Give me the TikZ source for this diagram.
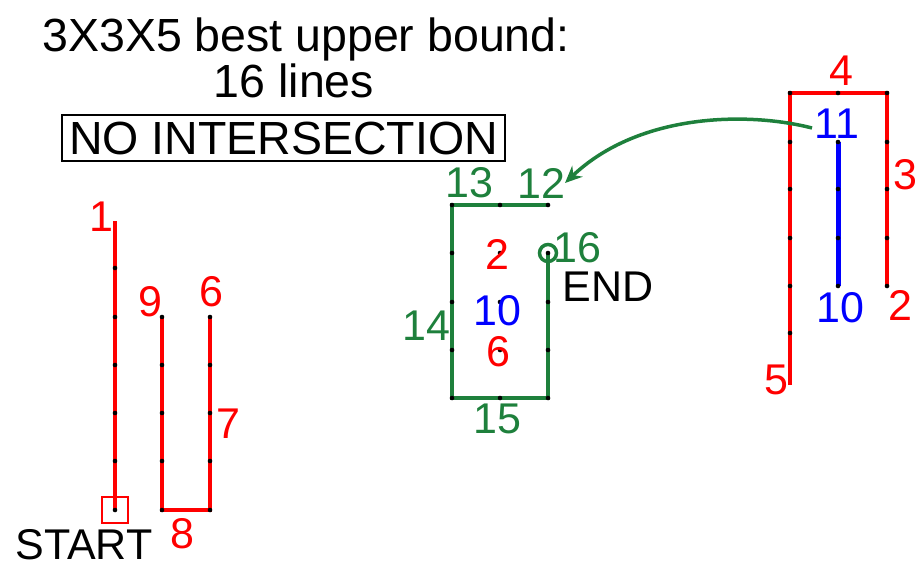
\documentclass[tikz,border=0pt]{standalone}
\usepackage{fontspec}
\setmainfont{Liberation Sans}
\usetikzlibrary{arrows.meta}
\definecolor{rd}{RGB}{255,0,0}
\definecolor{gn}{RGB}{30,128,60}
\definecolor{bl}{RGB}{0,0,255}
\begin{document}
\begin{tikzpicture}[x=1pt,y=-1pt,
  lbl/.style={inner sep=0pt, font=\fontsize{43}{43}\selectfont},
  ttl/.style={inner sep=0pt, font=\fontsize{46.5}{46.5}\selectfont},
  redpath/.style={draw=rd, line width=3.5pt, line join=miter},
  greenpath/.style={draw=gn, line width=3.5pt, line join=miter},
  bluepath/.style={draw=bl, line width=5pt},
  gdot/.style={fill=black}]
\useasboundingbox (0,0) rectangle (917,568);

% grid coordinates
\foreach \i/\x in {1/115,2/162,3/210}
  \foreach \j/\y in {1/317,2/365,3/413,4/461,5/510}
    \coordinate (L\i\j) at (\x,\y);
\foreach \i/\x in {1/452,2/500,3/548}
  \foreach \j/\y in {1/205,2/253,3/302,4/350,5/398}
    \coordinate (M\i\j) at (\x,\y);
\foreach \i/\x in {1/790,2/838,3/887}
  \foreach \j/\y in {1/93,2/142,3/189,4/238,5/286}
    \coordinate (R\i\j) at (\x,\y);
\coordinate (L10) at (115,268);
\coordinate (Ltop) at (115,221);
\coordinate (R16) at (790,333);
\coordinate (Rbot) at (790,385);

% title
\node[ttl, anchor=base] (title1) at (306,51) {3X3X5 best upper bound:};
\node[ttl, anchor=base] (title2) at (294,97) {16 lines};
\node[ttl, draw, line width=2.5pt, minimum width=443pt, minimum height=46pt] (box) at (283.5,138) {NO INTERSECTION};

% left layer
\draw[redpath] (Ltop) -- (L15);
\draw[redpath] (L21) -- (L25) -- (L35) -- (L31);
\node[draw=rd, line width=2.5pt, minimum size=26pt, inner sep=0pt] (startsq) at (L15) {};

% middle layer
\draw[greenpath] (M31) -- (M11) -- (M15) -- (M35) -- (M32);
\node[draw=gn, line width=3.5pt, circle, minimum size=17pt, inner sep=0pt] (endcirc) at (M32) {};

% right layer
\draw[redpath] (Rbot) -- (R11) -- (R31) -- (R35);
\draw[bluepath] (R22) -- (R25);

% dots
\foreach \i in {1,2,3}
  \foreach \j in {1,2,3,4,5} {
    \fill[gdot] (L\i\j) circle (2.3pt);
    \fill[gdot] (M\i\j) circle (2.3pt);
    \fill[gdot] (R\i\j) circle (2.3pt);
  }
\fill[gdot] (L10) circle (2.3pt);
\fill[gdot] (R16) circle (2.3pt);

% arrow
\coordinate (arrS) at (812,128);
\coordinate (arrE) at (565,183);
\draw[gn, line width=3.5pt, -{Stealth[length=17pt,width=15pt]}] (arrS) .. controls (750,112) and (640,112) .. (arrE);

% left labels
\node[lbl, text=rd] (l1) at (101,217) {1};
\node[lbl, text=rd] (l9) at (150,302) {9};
\node[lbl, text=rd] (l6) at (211,292) {6};
\node[lbl, text=rd] (l7) at (228,424) {7};
\node[lbl, text=rd] (l8) at (182,534) {8};
\node[lbl] (start) at (84,545) {START};

% middle labels
\node[lbl, text=gn] (m13) at (469,183) {13};
\node[lbl, text=gn] (m12) at (541,183) {12};
\node[lbl, text=gn] (m16) at (577,248) {16};
\node[lbl] (endl) at (608,287) {END};
\node[lbl, text=gn] (m14) at (426,326) {14};
\node[lbl, text=gn] (m15) at (497,419) {15};
\node[lbl, text=rd] (m2) at (497,254) {2};
\node[lbl, text=bl] (m10) at (497,311) {10};
\node[lbl, text=rd] (m6) at (498,352) {6};

% right labels
\node[lbl, text=rd] (r4) at (841,71) {4};
\node[lbl, text=bl] (r11) at (837,124) {11};
\node[lbl, text=rd] (r3) at (905,175) {3};
\node[lbl, text=bl] (r10) at (840,308) {10};
\node[lbl, text=rd] (r2) at (900,305) {2};
\node[lbl, text=rd] (r5) at (776,380) {5};
\end{tikzpicture}
\end{document}
